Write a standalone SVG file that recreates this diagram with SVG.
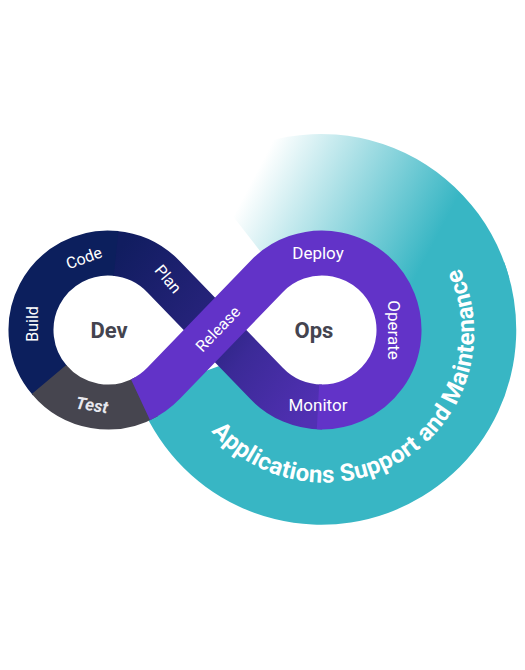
<svg xmlns="http://www.w3.org/2000/svg" width="525" height="670" viewBox="0 0 525 670">
  <defs>
    <linearGradient id="fade" gradientUnits="userSpaceOnUse" x1="271.7" y1="143.1" x2="439.8" y2="231.6">
      <stop offset="0" stop-color="#38b6c4" stop-opacity="0"/>
      <stop offset="0.35" stop-color="#38b6c4" stop-opacity="0.35"/>
      <stop offset="1" stop-color="#38b6c4" stop-opacity="1"/>
    </linearGradient>
    <linearGradient id="planGrad" gradientUnits="userSpaceOnUse" x1="115" y1="255" x2="318" y2="405">
      <stop offset="0" stop-color="#111d60"/>
      <stop offset="0.45" stop-color="#27237c"/>
      <stop offset="0.65" stop-color="#3b2a97"/>
      <stop offset="1" stop-color="#5130b3"/>
    </linearGradient>
    <style>
      .band { fill: none; stroke-width: 45; stroke-linecap: butt; }
      .lbl { font-family: Roboto, "Liberation Sans", sans-serif; font-size: 16px; fill: #ffffff; text-anchor: middle; dominant-baseline: central; }
      .ops { font-size: 17px; }
      .test { font-size: 17px; font-weight: bold; font-style: italic; fill: #e8e8ee; }
      .hub { font-family: Roboto, "Liberation Sans", sans-serif; font-size: 22px; font-weight: bold; fill: #44444f; text-anchor: middle; dominant-baseline: central; }
      .arc { font-family: Roboto, "Liberation Sans", sans-serif; font-size: 24px; font-weight: bold; fill: #ffffff; }
    </style>
    <path id="arcPath" d="M 211.3,431.3 A 150,150 0 0 0 452,254"/>
  </defs>
  <rect x="0" y="0" width="525" height="670" fill="#ffffff"/>

  <g id="support-ring">
    <path d="M 504.24,262.31 A 195,195 0 1 1 137.76,395.69 L 241.13,358.07 A 85,85 0 1 0 400.87,299.93 Z" fill="#38b6c4"/>
    <path d="M 200.94,175.34 A 195,195 0 0 1 509.35,278.53 L 403.1,307 A 85,85 0 0 0 268.67,262.02 Z" fill="url(#fade)"/>
    <text class="arc"><textPath href="#arcPath" textLength="430" lengthAdjust="spacing">Applications Support and Maintenance</textPath></text>
  </g>

  <g id="connectors">
    <path id="plan-strand" class="band" stroke="url(#planGrad)" d="M 114.71,253.29 A 77,77 0 0 1 163.42,276.54 L 266.58,383.46 A 77,77 0 0 0 322,407"/>
    <path id="build-code" class="band" stroke="#0c1f5d" d="M 49.89,380.52 A 77,77 0 0 1 116.05,253.42"/>
    <path id="test" class="band" stroke="#46454f" d="M 146.5,396.68 A 77,77 0 0 1 49.02,379.49"/>
    <path id="release-ops" class="band" stroke="#6233c8" d="M 140.54,399.79 A 77,77 0 0 0 163.42,383.46 L 266.58,276.54 A 77,77 0 1 1 317.97,406.89"/>
  </g>

  <g id="dev">
    <text class="hub" x="109" y="330">Dev</text>
  </g>
  <g id="ops">
    <text class="hub" x="314" y="330">Ops</text>
  </g>
  <g id="build"><text class="lbl" transform="translate(32,324) rotate(-90)">Build</text></g>
  <g id="code"><text class="lbl" transform="translate(84,258) rotate(-20)">Code</text></g>
  <g id="plan"><text class="lbl" transform="translate(168,279) rotate(50)">Plan</text></g>
  <g id="test-label"><text class="lbl test" transform="translate(92,405) rotate(9)">Test</text></g>
  <g id="release"><text class="lbl" transform="translate(218,329) rotate(-46)">Release</text></g>
  <g id="deploy"><text class="lbl ops" x="318" y="253">Deploy</text></g>
  <g id="operate"><text class="lbl ops" transform="translate(394,330) rotate(90)">Operate</text></g>
  <g id="monitor"><text class="lbl ops" x="318" y="405">Monitor</text></g>
</svg>
